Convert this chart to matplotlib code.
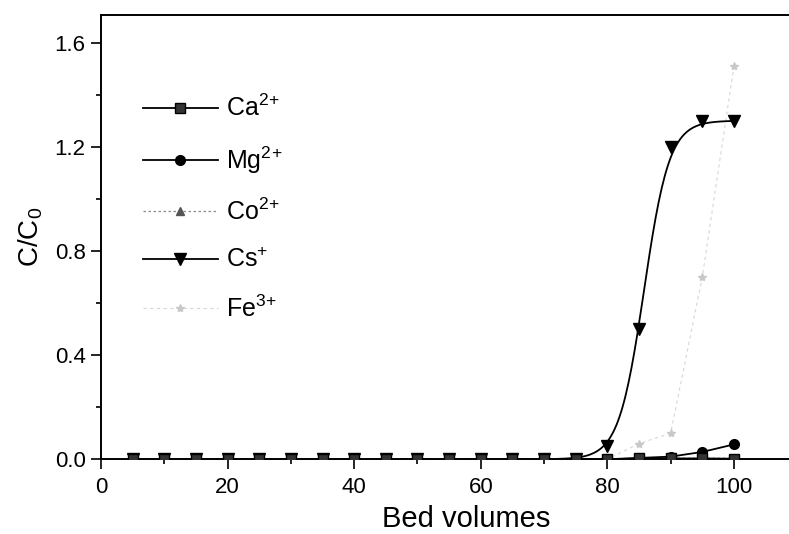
import numpy as np
import matplotlib
matplotlib.use('Agg')
import matplotlib.pyplot as plt
from matplotlib.ticker import MultipleLocator

plt.rcParams['font.family'] = ['Liberation Sans', 'DejaVu Sans']
plt.rcParams['mathtext.fontset'] = 'custom'
plt.rcParams['mathtext.rm'] = 'Liberation Sans'
plt.rcParams['mathtext.it'] = 'Liberation Sans'

# Bed volumes sampled every 5 BV
bed_volumes = [5, 10, 15, 20, 25, 30, 35, 40, 45, 50,
               55, 60, 65, 70, 75, 80, 85, 90, 95, 100]

# C/C0 for each ion
ca = [0, 0, 0, 0, 0, 0, 0, 0, 0, 0, 0, 0, 0, 0, 0, 0, 0.003, 0.003, 0.003, 0.002]
mg = [0, 0, 0, 0, 0, 0, 0, 0, 0, 0, 0, 0, 0, 0, 0, 0, 0.005, 0.01, 0.028, 0.057]
co = [0, 0, 0, 0, 0, 0, 0, 0, 0, 0, 0, 0, 0, 0, 0, 0, 0.002, 0.004, 0.004, 0.004]
cs = [0, 0, 0, 0, 0, 0, 0, 0, 0, 0, 0, 0, 0, 0, 0, 0.05, 0.50, 1.20, 1.30, 1.30]
fe = [0, 0, 0, 0, 0, 0, 0, 0, 0, 0, 0, 0, 0, 0, 0, 0.0, 0.06, 0.10, 0.70, 1.51]

# Boltzmann fit of the Cs+ breakthrough (plateau, centre, width)
cs_fit = (1.30, 85.8, 2.0)

x = np.array(bed_volumes, dtype=float)


def boltzmann(t, a2, x0, dx):
    return a2 - a2 / (1 + np.exp((t - x0) / dx))


x_fine = np.linspace(5, 100, 400)

fig = plt.figure(figsize=(7.89, 5.34), dpi=100)
ax = fig.add_axes([0.128, 0.14, 0.925, 0.832])

ax.plot(x, fe, color='#d6d6d6', ls=(0, (3, 3)), lw=0.8, marker='*', ms=6,
        mfc='#c8c8c8', mec='#c8c8c8', label='Fe$^{3\\!+}$', zorder=2)
ax.plot(x_fine, boltzmann(x_fine, *cs_fit), color='black', lw=1.3, zorder=3)
ax.plot(x, cs, color='black', ls='none', marker='v', ms=8, zorder=3)
ax.plot(x, co, color='#8c8c8c', ls=(0, (2, 2)), lw=0.9, marker='^', ms=6,
        mfc='#555555', mec='#555555', label='Co$^{2\\!+}$', zorder=4)
ax.plot(x, mg, color='black', lw=1.3, marker='o', ms=7, label='Mg$^{2\\!+}$', zorder=5)
ax.plot(x, ca, color='black', lw=1.3, marker='s', ms=7, mfc='#333333', mec='black',
        label='Ca$^{2\\!+}$', zorder=6)

# legend entry for Cs (fitted line + marker together)
ax.plot([], [], color='black', lw=1.3, marker='v', ms=8, label='Cs$^{+}$')

handles, labels = ax.get_legend_handles_labels()
order = ['Ca$^{2\\!+}$', 'Mg$^{2\\!+}$', 'Co$^{2\\!+}$', 'Cs$^{+}$', 'Fe$^{3\\!+}$']
hmap = dict(zip(labels, handles))
ax.legend([hmap[k] for k in order], order, loc='upper left',
          bbox_to_anchor=(0.057, 0.82), frameon=False, fontsize=18,
          handlelength=3.0, handletextpad=0.35, labelspacing=0.92,
          borderpad=0, borderaxespad=0)

ax.set_xlim(0, 115.3)
ax.set_ylim(0, 1.706)
ax.xaxis.set_major_locator(MultipleLocator(20))
ax.xaxis.set_minor_locator(MultipleLocator(10))
ax.yaxis.set_major_locator(MultipleLocator(0.4))
ax.yaxis.set_minor_locator(MultipleLocator(0.2))
ax.yaxis.set_major_formatter(plt.FuncFormatter(lambda v, p: f'{v:.1f}'))
ax.tick_params(which='both', direction='out', width=1.2, labelsize=16, top=False, right=False)
ax.tick_params(which='major', length=7)
ax.tick_params(which='minor', length=3.6)
ax.tick_params(axis='x', which='major', pad=6)
ax.tick_params(axis='y', which='major', pad=4)
for side in ['left', 'bottom', 'top']:
    ax.spines[side].set_linewidth(1.4)
ax.spines['right'].set_visible(False)

ax.set_xlabel('Bed volumes', fontsize=21, labelpad=5)
ax.set_ylabel('C/C$_{0}$', fontsize=20, labelpad=7)

fig.savefig('out.png', dpi=100)
